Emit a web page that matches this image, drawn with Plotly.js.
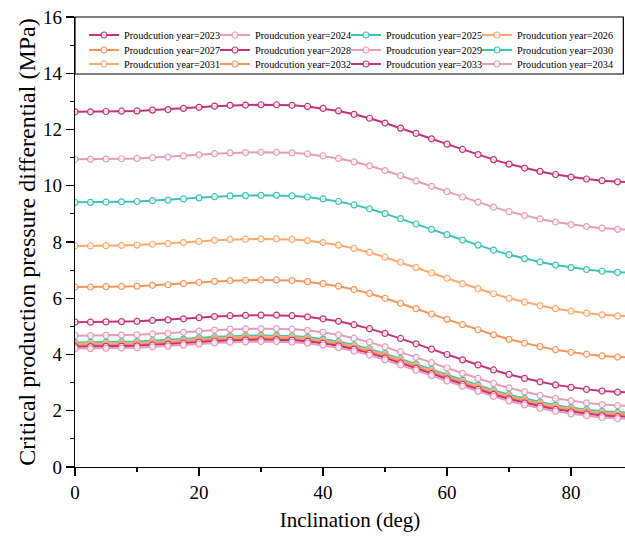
<!DOCTYPE html>
<html>
<head>
<meta charset="utf-8">
<script src="https://cdn.plot.ly/plotly-3.0.1.min.js"></script>
<style>html,body{margin:0;padding:0;background:#fff;}#chart{width:625px;height:538px;}</style>
</head>
<body>
<div id="chart"></div>
<script>
const inclination = [0,2.5,5,7.5,10,12.5,15,17.5,20,22.5,25,27.5,30,32.5,35,37.5,40,42.5,45,47.5,50,52.5,55,57.5,60,62.5,65,67.5,70,72.5,75,77.5,80,82.5,85,87.5,90];

const years = ['2023','2024','2025','2026','2027','2028','2029','2030','2031','2032','2033','2034'];

const y2023 = [12.63,12.63,12.64,12.65,12.66,12.69,12.71,12.75,12.79,12.83,12.86,12.87,12.88,12.88,12.86,12.82,12.75,12.66,12.54,12.40,12.23,12.05,11.86,11.67,11.48,11.29,11.11,10.93,10.77,10.63,10.51,10.40,10.31,10.24,10.18,10.14,10.12];
const y2024 = [10.94,10.94,10.95,10.96,10.97,11.00,11.02,11.06,11.10,11.14,11.17,11.18,11.19,11.19,11.17,11.13,11.06,10.97,10.85,10.71,10.54,10.36,10.17,9.98,9.79,9.60,9.42,9.24,9.08,8.94,8.82,8.71,8.62,8.55,8.49,8.45,8.43];
const y2025 = [9.41,9.41,9.42,9.43,9.44,9.47,9.49,9.53,9.57,9.61,9.64,9.65,9.66,9.66,9.64,9.60,9.53,9.44,9.32,9.18,9.01,8.83,8.64,8.45,8.26,8.07,7.89,7.71,7.55,7.41,7.29,7.18,7.09,7.02,6.96,6.92,6.90];
const y2026 = [7.86,7.86,7.87,7.88,7.89,7.92,7.94,7.98,8.02,8.06,8.09,8.10,8.11,8.11,8.09,8.05,7.98,7.89,7.77,7.63,7.46,7.28,7.09,6.90,6.71,6.52,6.34,6.16,6.00,5.86,5.74,5.63,5.54,5.47,5.41,5.37,5.35];
const y2027 = [6.40,6.40,6.41,6.42,6.43,6.46,6.48,6.52,6.56,6.60,6.63,6.64,6.65,6.65,6.63,6.59,6.52,6.43,6.31,6.17,6.00,5.82,5.63,5.44,5.25,5.06,4.88,4.70,4.54,4.40,4.28,4.17,4.08,4.01,3.95,3.91,3.89];
const y2028 = [5.15,5.15,5.16,5.17,5.18,5.21,5.23,5.27,5.31,5.35,5.38,5.39,5.40,5.40,5.38,5.34,5.27,5.18,5.06,4.92,4.75,4.57,4.38,4.19,4.00,3.81,3.63,3.45,3.29,3.15,3.03,2.92,2.83,2.76,2.70,2.66,2.64];
const y2029 = [4.67,4.67,4.68,4.69,4.70,4.73,4.75,4.79,4.83,4.87,4.90,4.91,4.92,4.92,4.90,4.86,4.79,4.70,4.58,4.44,4.27,4.09,3.90,3.71,3.52,3.33,3.15,2.97,2.81,2.67,2.55,2.44,2.35,2.28,2.22,2.18,2.16];
const y2030 = [4.43,4.43,4.44,4.45,4.46,4.49,4.51,4.55,4.59,4.63,4.66,4.67,4.68,4.68,4.66,4.62,4.55,4.46,4.34,4.20,4.03,3.85,3.66,3.47,3.28,3.09,2.91,2.73,2.57,2.43,2.31,2.20,2.11,2.04,1.98,1.94,1.92];
const y2031 = [4.38,4.38,4.39,4.40,4.41,4.44,4.46,4.50,4.54,4.58,4.61,4.62,4.63,4.63,4.61,4.57,4.50,4.41,4.29,4.15,3.98,3.80,3.61,3.42,3.23,3.04,2.86,2.68,2.52,2.38,2.26,2.15,2.06,1.99,1.93,1.89,1.87];
const y2032 = [4.33,4.33,4.34,4.35,4.36,4.39,4.41,4.45,4.49,4.53,4.56,4.57,4.58,4.58,4.56,4.52,4.45,4.36,4.24,4.10,3.93,3.75,3.56,3.37,3.18,2.99,2.81,2.63,2.47,2.33,2.21,2.10,2.01,1.94,1.88,1.84,1.82];
const y2033 = [4.28,4.28,4.29,4.30,4.31,4.34,4.36,4.40,4.44,4.48,4.51,4.52,4.53,4.53,4.51,4.47,4.40,4.31,4.19,4.05,3.88,3.70,3.51,3.32,3.13,2.94,2.76,2.58,2.42,2.28,2.16,2.05,1.96,1.89,1.83,1.79,1.77];
const y2034 = [4.21,4.21,4.22,4.23,4.24,4.27,4.29,4.33,4.37,4.41,4.44,4.45,4.46,4.46,4.44,4.40,4.33,4.24,4.12,3.98,3.81,3.63,3.44,3.25,3.06,2.87,2.69,2.51,2.35,2.21,2.09,1.98,1.89,1.82,1.76,1.72,1.70];

const series = [y2023,y2024,y2025,y2026,y2027,y2028,y2029,y2030,y2031,y2032,y2033,y2034];

const palette = ['#C2337A','#E89BBA','#3EC4B6','#FFA96C','#F5955B'];
const font = '"Times New Roman", "Liberation Serif", serif';

// legend grid: 4 columns x 3 rows, one single-entry legend per trace
const legendColX = [0.0164, 0.2545, 0.4927, 0.7309];
const legendRowY = [0.960, 0.9267, 0.8956];

const traces = series.map((ys, i) => {
  const c = palette[i % 5];
  return {
    x: inclination,
    y: ys,
    type: 'scatter',
    mode: 'lines+markers',
    name: 'Proudcution year=' + years[i],
    legend: i === 0 ? 'legend' : 'legend' + (i + 1),
    line: {color: c, width: 2},
    marker: {symbol: 'circle', size: 6, color: 'rgba(255,255,255,0.8)', line: {color: c, width: 1.2}}
  };
});

const layout = {
  width: 625, height: 538,
  margin: {l: 75, r: 0, t: 17, b: 71},
  paper_bgcolor: '#fff', plot_bgcolor: '#fff',
  showlegend: true,
  xaxis: {
    range: [0, 88.7], tick0: 0, dtick: 20,
    ticks: 'outside', ticklen: 8, tickwidth: 1.2, tickcolor: '#000',
    showline: true, linecolor: '#000', linewidth: 1.3,
    showgrid: false, zeroline: false,
    minor: {dtick: 10, ticks: 'outside', ticklen: 4, tickwidth: 1.2, tickcolor: '#000', showgrid: false},
    tickfont: {family: font, size: 19, color: '#000'},
    title: {text: 'Inclination (deg)', font: {family: font, size: 21, color: '#000'}, standoff: 10}
  },
  yaxis: {
    range: [0, 16], tick0: 0, dtick: 2,
    ticks: 'outside', ticklen: 8, tickwidth: 1.2, tickcolor: '#000',
    showline: true, linecolor: '#000', linewidth: 1.3,
    showgrid: false, zeroline: false,
    minor: {dtick: 1, ticks: 'outside', ticklen: 4, tickwidth: 1.2, tickcolor: '#000', showgrid: false},
    tickfont: {family: font, size: 19, color: '#000'},
    title: {text: 'Critical production pressure differential (MPa)', font: {family: font, size: 24, color: '#000'}, standoff: 0}
  },
  shapes: [{
    type: 'rect', xref: 'paper', yref: 'paper',
    x0: 0, x1: 0.997, y0: 0.8733, y1: 1,
    line: {color: '#000', width: 1.2}, fillcolor: 'rgba(0,0,0,0)'
  }]
};

series.forEach((_, i) => {
  const id = i === 0 ? 'legend' : 'legend' + (i + 1);
  layout[id] = {
    orientation: 'h', xanchor: 'left', yanchor: 'middle',
    x: legendColX[i % 4], y: legendRowY[Math.floor(i / 4)],
    bgcolor: 'rgba(0,0,0,0)', borderwidth: 0,
    font: {family: font, size: 10.2, color: '#000'}
  };
});

Plotly.newPlot('chart', traces, layout, {displayModeBar: false, staticPlot: true});
</script>
</body>
</html>
